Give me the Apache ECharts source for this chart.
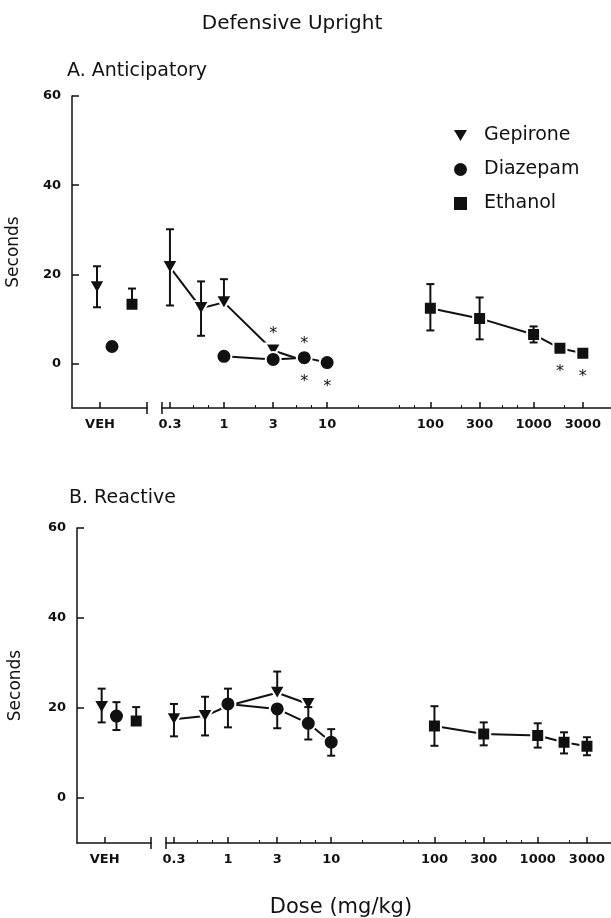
<!DOCTYPE html>
<html>
<head>
<meta charset="utf-8">
<title>Defensive Upright</title>
<script src="https://cdn.jsdelivr.net/npm/echarts@6.0.0/dist/echarts.min.js"></script>
<style>
  html, body { margin: 0; padding: 0; background: #fff; }
  #main { width: 611px; height: 918px; }
</style>
</head>
<body>
<div id="main"></div>
<script>
// doses in mg/kg, first entry is the vehicle group
var gepDoses = ['VEH', 0.3, 0.6, 1, 3, 6];
var diaDoses = ['VEH', 1, 3, 6, 10];
var ethDoses = ['VEH', 100, 300, 1000, 1800, 3000];

// A. Anticipatory - mean seconds, error up, error down, asterisk (1 above, -1 below)
var gepA    = [17.1, 21.6, 12.4, 13.7, 2.9, 0.6];
var gepAHi  = [4.7, 8.5, 6.0, 5.2, 0, 0];
var gepALo  = [4.5, 8.6, 6.2, 0, 0, 0];
var gepASig = [0, 0, 0, 0, 1, 1];
var diaA    = [3.8, 1.6, 0.9, 1.3, 0.2];
var diaAHi  = [0, 0, 0, 0, 0];
var diaALo  = [0, 0, 0, 0, 0];
var diaASig = [0, 0, 0, -1, -1];
var ethA    = [13.3, 12.4, 10.1, 6.5, 3.4, 2.3];
var ethAHi  = [3.5, 5.4, 4.7, 1.8, 0, 0];
var ethALo  = [0, 5.0, 4.7, 1.8, 0, 0];
var ethASig = [0, 0, 0, 0, -1, -1];

// B. Reactive
var gepB    = [20.2, 17.5, 18.2, 20.5, 23.4, 20.9];
var gepBHi  = [4.1, 3.4, 4.3, 0, 4.7, 0];
var gepBLo  = [3.4, 3.8, 4.3, 0, 0, 0];
var gepBSig = [0, 0, 0, 0, 0, 0];
var diaB    = [18.2, 20.9, 19.8, 16.6, 12.4];
var diaBHi  = [3.1, 3.4, 0, 3.6, 2.9];
var diaBLo  = [3.1, 5.2, 4.3, 3.6, 3.0];
var diaBSig = [0, 0, 0, 0, 0];
var ethB    = [17.1, 16.0, 14.2, 13.9, 12.4, 11.5];
var ethBHi  = [3.1, 4.4, 2.6, 2.7, 2.2, 2.0];
var ethBLo  = [0, 4.4, 2.5, 2.7, 2.5, 2.0];
var ethBSig = [0, 0, 0, 0, 0, 0];

var xTickLabels = ['0.3', '1', '3', '10', '100', '300', '1000', '3000'];
var xMinorTicks = [0.5, 0.7, 2, 5, 7, 20, 50, 70, 200, 500, 700, 2000];
var yTicks = [0, 20, 40, 60];

var FONT = 'DejaVu Sans';
var INK = '#111';
var TRI = 'path://M0,0 L12,0 L6,10 Z';

var drugs = [
  { name: 'Gepirone', doses: gepDoses, symbol: TRI, size: [16, 14], vehX: 1.0 },
  { name: 'Diazepam', doses: diaDoses, symbol: 'circle', size: 15, vehX: 1.6 },
  { name: 'Ethanol', doses: ethDoses, symbol: 'rect', size: 13, vehX: 2.4 }
];

var panels = [
  {
    title: 'A. Anticipatory', titleTop: 57, titleLeft: 62,
    left: 72, leftWidth: 75, right: 162, top: 96, height: 312, xMax: 3.75, nameGap: 50,
    sets: [
      [gepA, gepAHi, gepALo, gepASig],
      [diaA, diaAHi, diaALo, diaASig],
      [ethA, ethAHi, ethALo, ethASig]
    ]
  },
  {
    title: 'B. Reactive', titleTop: 484, titleLeft: 64,
    left: 77, leftWidth: 74, right: 166, top: 528, height: 315, xMax: 3.71, nameGap: 53,
    sets: [
      [gepB, gepBHi, gepBLo, gepBSig],
      [diaB, diaBHi, diaBLo, diaBSig],
      [ethB, ethBHi, ethBLo, ethBSig]
    ]
  }
];

var VEH_TICK = 1.12;
var VEH_MAX = 3;
var LOG_MIN = -0.6;
var tickVals = xTickLabels.map(function (s) { return Math.log10(+s); });
var minorVals = xMinorTicks.map(function (d) { return Math.log10(d); });

function tickLabel(v) {
  for (var i = 0; i < tickVals.length; i++) {
    if (Math.abs(tickVals[i] - v) < 1e-6) return xTickLabels[i];
  }
  return '';
}

function renderErr(params, api) {
  var x = api.value(0), y = api.value(1);
  var c = api.coord([x, y]);
  var style = { stroke: INK, lineWidth: 2 };
  var kids = [];
  [[api.value(2), 1], [api.value(3), -1]].forEach(function (e) {
    if (!e[0]) return;
    var end = api.coord([x, y + e[1] * e[0]]);
    kids.push({ type: 'line', shape: { x1: c[0], y1: c[1], x2: end[0], y2: end[1] }, style: style });
    kids.push({ type: 'line', shape: { x1: end[0] - 4, y1: end[1], x2: end[0] + 4, y2: end[1] }, style: style });
  });
  return { type: 'group', children: kids };
}

var grids = [], xAxes = [], yAxes = [], series = [];
var labelStyle = { fontFamily: FONT, fontWeight: 'bold', fontSize: 13, color: INK };
var tickLine = { color: INK, width: 1.5 };

// extra x axis in a grid used only to draw more ticks along the bottom line
function tickAxis(grid, min, max, vals, inside, len, width) {
  return {
    type: 'value', gridIndex: grid, position: 'bottom', min: min, max: max, splitLine: { show: false },
    axisLine: { show: false, onZero: false },
    axisTick: { inside: inside, length: len, customValues: vals, lineStyle: { color: INK, width: width } },
    axisLabel: { show: false }
  };
}

panels.forEach(function (p) {
  var gL = grids.length, gR = gL + 1;
  grids.push({ left: p.left, top: p.top, width: p.leftWidth, height: p.height });
  grids.push({ left: p.right, top: p.top, right: 0, height: p.height });

  // vehicle segment
  var xL = xAxes.length;
  xAxes.push({
    type: 'value', gridIndex: gL, position: 'bottom', min: 0, max: VEH_MAX, splitLine: { show: false },
    axisLine: { onZero: false, lineStyle: { color: INK, width: 1.5 } },
    axisTick: { inside: true, length: 6, customValues: [VEH_TICK, VEH_MAX], lineStyle: tickLine },
    axisLabel: Object.assign({ customValues: [VEH_TICK], margin: 10, formatter: function () { return 'VEH'; } }, labelStyle)
  });
  xAxes.push(tickAxis(gL, 0, VEH_MAX, [VEH_MAX], false, 6, 1.5));

  // dose segment (log10 mg/kg)
  var xR = xAxes.length;
  xAxes.push({
    type: 'value', gridIndex: gR, position: 'bottom', min: LOG_MIN, max: p.xMax, splitLine: { show: false },
    axisLine: { onZero: false, lineStyle: { color: INK, width: 1.5 } },
    axisTick: { inside: true, length: 6, customValues: [LOG_MIN].concat(tickVals), lineStyle: tickLine },
    axisLabel: Object.assign({ customValues: tickVals, margin: 10, formatter: tickLabel }, labelStyle)
  });
  xAxes.push(tickAxis(gR, LOG_MIN, p.xMax, minorVals, true, 3, 1));
  xAxes.push(tickAxis(gR, LOG_MIN, p.xMax, [LOG_MIN], false, 6, 1.5));

  yAxes.push({
    type: 'value', gridIndex: gL, min: -10, max: 60, interval: 10, splitLine: { show: false },
    name: 'Seconds', nameLocation: 'middle', nameGap: p.nameGap,
    nameTextStyle: { fontFamily: FONT, fontSize: 17, color: INK },
    axisLine: { onZero: false, lineStyle: { color: INK, width: 1.5 } },
    axisTick: { inside: true, length: 7, customValues: yTicks, lineStyle: tickLine },
    axisLabel: Object.assign({ customValues: yTicks, margin: 11 }, labelStyle)
  });
  yAxes.push({ type: 'value', gridIndex: gR, min: -10, max: 60, show: false });
  var yL = yAxes.length - 2, yR = yAxes.length - 1;

  drugs.forEach(function (d, k) {
    var s = p.sets[k];
    var mean = s[0], hi = s[1], lo = s[2], sig = s[3];
    var vehPts = [[d.vehX, mean[0], hi[0], lo[0]]];
    var dosePts = [];
    for (var i = 1; i < d.doses.length; i++) {
      dosePts.push([Math.log10(d.doses[i]), mean[i], hi[i], lo[i]]);
    }
    function marks(pts, offset) {
      return pts.map(function (pt, j) {
        var sg = sig[j + offset];
        var item = { value: [pt[0], pt[1]] };
        if (sg) {
          item.label = { show: true, position: sg > 0 ? 'top' : 'bottom', distance: sg > 0 ? 1 : 8 };
        }
        return item;
      });
    }
    var common = {
      type: 'scatter', name: d.name, symbol: d.symbol, symbolSize: d.size, z: 3,
      itemStyle: { color: INK, opacity: 1, borderColor: '#fff', borderWidth: 2 },
      label: { show: false, formatter: '*', fontFamily: FONT, fontSize: 16, color: INK },
      emphasis: { disabled: true }, silent: true
    };
    series.push({
      type: 'line', xAxisIndex: xR, yAxisIndex: yR, data: dosePts.map(function (pt) { return [pt[0], pt[1]]; }),
      symbol: 'none', lineStyle: { color: INK, width: 2 }, z: 2, silent: true
    });
    [[vehPts, xL, yL, 0], [dosePts, xR, yR, 1]].forEach(function (g) {
      series.push(Object.assign({}, common, { xAxisIndex: g[1], yAxisIndex: g[2], data: marks(g[0], g[3]) }));
      series.push({
        type: 'custom', xAxisIndex: g[1], yAxisIndex: g[2], renderItem: renderErr,
        encode: { x: 0, y: 1 }, data: g[0], z: 4, silent: true
      });
    });
  });
});

var chart = echarts.init(document.getElementById('main'));
chart.setOption({
  animation: false,
  backgroundColor: '#fff',
  title: [
    { text: 'Defensive Upright', left: 287, top: 9, textAlign: 'center',
      textStyle: { fontFamily: FONT, fontSize: 20, fontWeight: 'normal', color: INK } },
    { text: panels[0].title, left: panels[0].titleLeft, top: panels[0].titleTop,
      textStyle: { fontFamily: FONT, fontSize: 19, fontWeight: 'normal', color: INK } },
    { text: panels[1].title, left: panels[1].titleLeft, top: panels[1].titleTop,
      textStyle: { fontFamily: FONT, fontSize: 19, fontWeight: 'normal', color: INK } },
    { text: 'Dose (mg/kg)', left: 336, top: 892, textAlign: 'center',
      textStyle: { fontFamily: FONT, fontSize: 21, fontWeight: 'normal', color: INK } }
  ],
  legend: {
    orient: 'vertical', left: 449, top: 121, itemWidth: 13, itemHeight: 13, itemGap: 15,
    textStyle: { fontFamily: FONT, fontSize: 19, color: INK, padding: [0, 0, 0, 12] },
    itemStyle: { opacity: 1, borderWidth: 0 },
    data: [
      { name: 'Gepirone', icon: TRI },
      { name: 'Diazepam', icon: 'circle' },
      { name: 'Ethanol', icon: 'rect' }
    ],
    selectedMode: false
  },
  grid: grids,
  xAxis: xAxes,
  yAxis: yAxes,
  series: series
});
</script>
</body>
</html>
